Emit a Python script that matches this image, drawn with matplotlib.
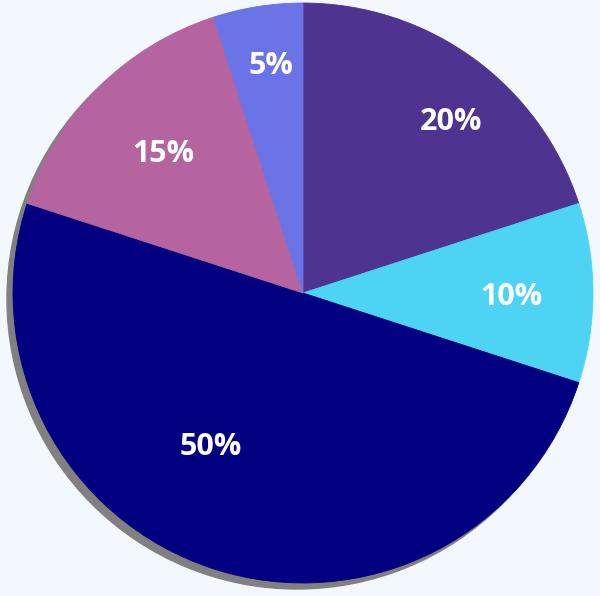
import numpy as np
import matplotlib
matplotlib.use("Agg")
import matplotlib.pyplot as plt
from matplotlib.patches import Circle

shares = [20, 10, 50, 15, 5]
labels = ["20%", "10%", "50%", "15%", "5%"]
colors = ["#4e3390", "#4dd4f5", "#020080", "#b564a0", "#6b74e6"]

# where each percentage sits (fraction of radius, angle tweak in degrees)
lab_r = [0.78, 0.72, 0.62, 0.68, 0.79]
lab_da = [-5, -1, -13, 0, -1]

fig = plt.figure(figsize=(6, 5.96), dpi=100, facecolor="#f3f8fe")
ax = fig.add_axes([0, 0, 1, 1])
ax.set_facecolor("#f3f8fe")

cx, cy, R = 303, 303, 290

# drop shadow behind the pie
ax.add_patch(Circle((cx - 6, cy - 6), R, color="#808080", zorder=0))

wedges, _ = ax.pie(shares, colors=colors, startangle=90, counterclock=False,
                   center=(cx, cy), radius=R, frame=True)
for w, c in zip(wedges, colors):
    w.set_edgecolor(c)
    w.set_linewidth(0.6)

ax.set_xlim(0, 600)
ax.set_ylim(0, 596)
ax.set_aspect("equal")
ax.axis("off")

for w, lab, rf, da in zip(wedges, labels, lab_r, lab_da):
    ang = np.deg2rad((w.theta1 + w.theta2) / 2 + da)
    ax.text(cx + rf * R * np.cos(ang), cy + rf * R * np.sin(ang), lab,
            color="white", fontsize=22, fontweight="bold",
            family=["Open Sans", "DejaVu Sans"],
            ha="center", va="center", zorder=5)

fig.savefig("out.png", dpi=100, facecolor=fig.get_facecolor())
